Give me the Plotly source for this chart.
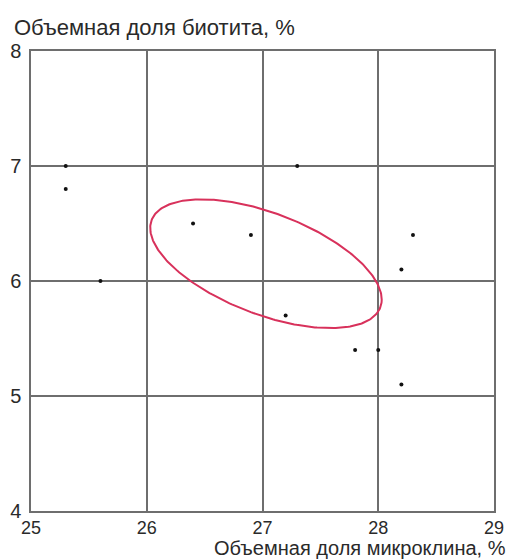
import numpy as np
import plotly.graph_objects as go

# Sample measurements: microcline vs biotite volume fractions, %
microcline = [25.3, 25.3, 25.6, 26.4, 26.9, 27.3, 27.2, 27.8, 28.0, 28.2, 28.2, 28.3]
biotite = [7.0, 6.8, 6.0, 6.5, 6.4, 7.0, 5.7, 5.4, 5.4, 5.1, 6.1, 6.4]

x_ticks = [25, 26, 27, 28, 29]
y_ticks = [4, 5, 6, 7, 8]

# Confidence ellipse parameters (centre, half-extents along axes, phase shift)
ell_cx, ell_cy = 27.03, 6.15
ell_ax, ell_ay = 1.0, 0.56
ell_phase = 2.16

t = np.linspace(0, 2 * np.pi, 300)
ell_x = ell_cx + ell_ax * np.cos(t)
ell_y = ell_cy + ell_ay * np.cos(t - ell_phase)

grid_col = "#6e6e6e"
text_col = "#2a2a2a"
font = "Liberation Sans, Arial, sans-serif"

fig = go.Figure()
fig.add_trace(go.Scatter(
    x=ell_x, y=ell_y, mode="lines",
    line=dict(color="#d8315b", width=2),
    hoverinfo="skip",
))
fig.add_trace(go.Scatter(
    x=microcline, y=biotite, mode="markers",
    marker=dict(color="#111111", size=4),
))

fig.update_layout(
    width=507, height=560,
    margin=dict(l=31, r=13, t=51, b=49, autoexpand=False),
    paper_bgcolor="white", plot_bgcolor="white",
    showlegend=False,
    font=dict(family=font, color=text_col),
    xaxis=dict(
        range=[25, 29], tickvals=x_ticks, ticktext=[str(v) for v in x_ticks],
        showgrid=True, gridcolor=grid_col, gridwidth=1.5,
        showline=True, linecolor=grid_col, linewidth=1.5, mirror=True,
        zeroline=False, ticks="", automargin=False, ticklabelstandoff=0,
        tickfont=dict(size=18, family=font, color=text_col),
    ),
    yaxis=dict(
        range=[4, 8], tickvals=y_ticks, ticktext=[str(v) for v in y_ticks],
        showgrid=True, gridcolor=grid_col, gridwidth=1.5,
        showline=True, linecolor=grid_col, linewidth=1.5, mirror=True,
        zeroline=False, ticks="", automargin=False, ticklabelstandoff=4,
        tickfont=dict(size=20, family=font, color=text_col),
    ),
    annotations=[
        dict(text="Объемная доля биотита, %", xref="paper", yref="paper",
             x=-19 / 463, y=1.0, xanchor="left", yanchor="bottom", yshift=9,
             showarrow=False, font=dict(size=22, family=font, color=text_col)),
        dict(text="Объемная доля микроклина, %", xref="paper", yref="paper",
             x=1.0, y=0.0, xanchor="right", yanchor="top", xshift=13, yshift=-25,
             borderpad=0,
             showarrow=False, font=dict(size=20, family=font, color=text_col)),
    ],
)

fig.write_html("out.html")
